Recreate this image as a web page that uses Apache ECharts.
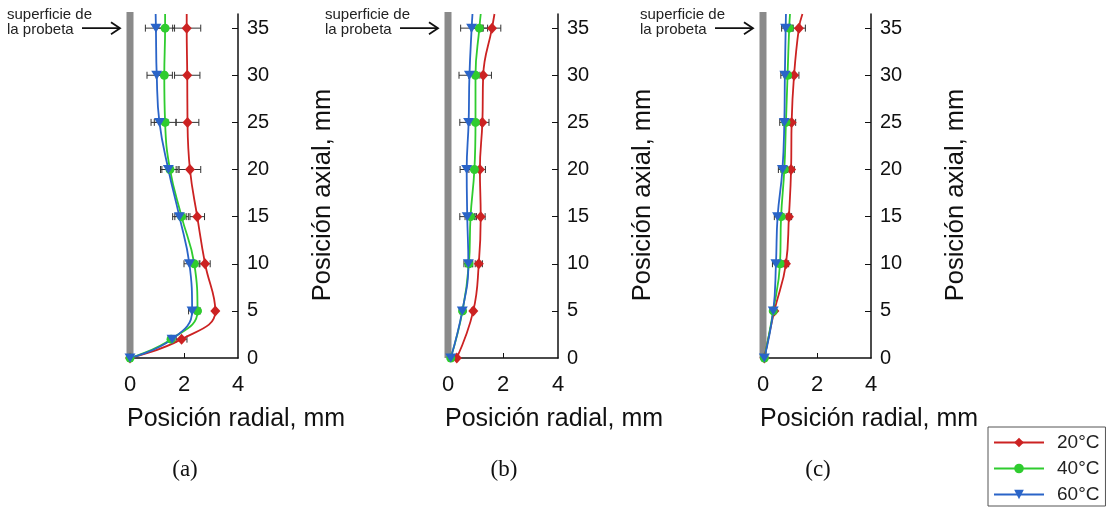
<!DOCTYPE html>
<html><head><meta charset="utf-8">
<script src="https://cdn.jsdelivr.net/npm/echarts@6/dist/echarts.min.js"></script>
<style>html,body{margin:0;padding:0;background:#fff}#c{width:1106px;height:508px}</style>
</head><body><div id="c"></div>
<script>
// ---- data ----
const seriesNames = ['20°C', '40°C', '60°C'];
const panelLabels = ['(a)', '(b)', '(c)'];
const axialTicks = [0, 5, 10, 15, 20, 25, 30, 35];
const radialTicks = [0, 2, 4];
const axialTop = 36.5;

// panel (a)
const axialA = [0, 2, 5, 10, 15, 20, 25, 30, 35];
const a20 = [0, 1.91, 3.16, 2.78, 2.49, 2.22, 2.13, 2.12, 2.10];
const a40 = [0, 1.52, 2.50, 2.38, 1.91, 1.48, 1.30, 1.27, 1.30];
const a60 = [0, 1.56, 2.30, 2.20, 1.83, 1.42, 1.09, 0.99, 0.96];
const a20err = [0, 0.20, 0.03, 0.19, 0.27, 0.40, 0.42, 0.47, 0.52];
const a40err = [0, 0.10, 0.10, 0.18, 0.25, 0.30, 0.40, 0.30, 0.35];
const a60err = [0, 0.10, 0.13, 0.20, 0.25, 0.29, 0.31, 0.36, 0.39];
const aTop = [2.10, 1.30, 0.95];

// panel (b)
const axialB = [0, 5, 10, 15, 20, 25, 30, 35];
const b20 = [0.32, 0.92, 1.12, 1.19, 1.16, 1.25, 1.28, 1.60];
const b40 = [0.10, 0.53, 0.76, 0.82, 0.96, 1.00, 1.00, 1.14];
const b60 = [0.10, 0.52, 0.74, 0.70, 0.68, 0.75, 0.78, 0.86];
const b20err = [0, 0.05, 0.13, 0.16, 0.20, 0.24, 0.30, 0.32];
const b40err = [0, 0.08, 0.12, 0.20, 0.20, 0.20, 0.25, 0.30];
const b60err = [0, 0.08, 0.16, 0.27, 0.24, 0.32, 0.38, 0.40];
const bTop = [1.69, 1.19, 0.89];

// panel (c)
const axialC = [0, 5, 10, 15, 20, 25, 30, 35];
const c20 = [0.05, 0.42, 0.85, 0.96, 1.04, 1.06, 1.15, 1.33];
const c40 = [0.05, 0.38, 0.63, 0.67, 0.79, 0.85, 0.91, 0.97];
const c60 = [0.05, 0.38, 0.48, 0.54, 0.72, 0.79, 0.81, 0.84];
const c20err = [0, 0.05, 0.10, 0.10, 0.12, 0.15, 0.18, 0.24];
const c40err = [0, 0.05, 0.10, 0.10, 0.12, 0.12, 0.12, 0.15];
const c60err = [0, 0.05, 0.13, 0.12, 0.15, 0.17, 0.15, 0.15];
const cTop = [1.46, 1.00, 0.85];

// ---- styling ----
const colors = ['#cc2222', '#2fcc2f', '#2a64c8'];
const symbols = ['diamond', 'circle', 'path://M0,0 L10,0 L5,8.5 Z'];
const symbolSizes = [[10, 11], 9, [11, 9]];
const font = "'Liberation Sans', Arial, sans-serif";

const panels = [
  {axial: axialA, vals: [a20, a40, a60], errs: [a20err, a40err, a60err], top: aTop, left: 130, width: 108},
  {axial: axialB, vals: [b20, b40, b60], errs: [b20err, b40err, b60err], top: bTop, left: 448, width: 110},
  {axial: axialC, vals: [c20, c40, c60], errs: [c20err, c40err, c60err], top: cTop, left: 763, width: 108}
];

function errItem(params, api) {
  const x = api.value(0), y = api.value(1), e = api.value(2);
  if (!e) return null;
  const p1 = api.coord([x - e, y]), p2 = api.coord([x + e, y]);
  const h = 3.5;
  const style = {stroke: '#333', lineWidth: 1};
  return {type: 'group', children: [
    {type: 'line', shape: {x1: p1[0], y1: p1[1], x2: p2[0], y2: p2[1]}, style},
    {type: 'line', shape: {x1: p1[0], y1: p1[1] - h, x2: p1[0], y2: p1[1] + h}, style},
    {type: 'line', shape: {x1: p2[0], y1: p2[1] - h, x2: p2[0], y2: p2[1] + h}, style}
  ]};
}
function surfaceItem(params, api) {
  const p0 = api.coord([0, 0]), p1 = api.coord([0, axialTop]);
  return {type: 'rect', shape: {x: p0[0] - 3.5, y: p1[1] - 2, width: 7, height: p0[1] - p1[1] + 2},
          style: {fill: '#8a8a8a'}};
}

const grid = [], xAxis = [], yAxis = [], series = [];
panels.forEach((p, gi) => {
  grid.push({left: p.left, width: p.width, top: 14, height: 344});
  xAxis.push({
    type: 'value', gridIndex: gi, min: 0, max: 4, interval: 2,
    axisLine: {show: true, onZero: false, lineStyle: {color: '#111', width: 1.5}},
    axisTick: {show: true, inside: true, length: 5, customValues: [2], lineStyle: {color: '#111'}},
    splitLine: {show: false},
    axisLabel: {fontSize: 22, margin: 16, color: '#111', fontFamily: font, customValues: radialTicks}
  });
  yAxis.push({
    type: 'value', gridIndex: gi, position: 'right', min: 0, max: axialTop, interval: 5,
    name: 'Posición axial, mm', nameLocation: 'middle', nameRotate: 90, nameGap: 72,
    nameTextStyle: {fontSize: 25.5, color: '#111', fontFamily: font, padding: [0, 18, 0, 0]},
    axisLine: {show: true, onZero: false, lineStyle: {color: '#111', width: 1.5}},
    axisTick: {show: true, inside: true, length: 6, customValues: axialTicks.slice(1), lineStyle: {color: '#111'}},
    splitLine: {show: false},
    axisLabel: {fontSize: 20, margin: 9, color: '#111', fontFamily: font, customValues: axialTicks,
                formatter: v => (v % 5 === 0 ? String(v) : '')}
  });
  series.push({
    type: 'custom', name: 'surface' + gi, xAxisIndex: gi, yAxisIndex: gi, clip: false, z: 1,
    silent: true, data: [[0, 0]], encode: {x: 0, y: 1}, renderItem: surfaceItem
  });
  seriesNames.forEach((nm, si) => {
    series.push({
      type: 'custom', name: nm + ' err' + gi, xAxisIndex: gi, yAxisIndex: gi, z: 2, silent: true,
      encode: {x: 0, y: 1},
      data: p.axial.map((y, i) => [p.vals[si][i], y, p.errs[si][i]]),
      renderItem: errItem
    });
    const d = p.axial.map((y, i) => [p.vals[si][i], y]);
    d.push({value: [p.top[si], axialTop], symbol: 'none'});
    series.push({
      type: 'line', name: nm, xAxisIndex: gi, yAxisIndex: gi, z: 3,
      data: d, smooth: 0.45, clip: false,
      symbol: symbols[si], symbolSize: symbolSizes[si], showSymbol: true,
      itemStyle: {color: colors[si]},
      lineStyle: {color: colors[si], width: 1.8},
      emphasis: {disabled: true}
    });
  });
});

const chart = echarts.init(document.getElementById('c'), null, {renderer: 'canvas'});
chart.setOption({
  animation: false,
  backgroundColor: '#fff',
  grid, xAxis, yAxis, series,
  legend: {
    data: seriesNames, orient: 'vertical', left: 988, top: 427, height: 72,
    padding: [6, 6, 2, 5], itemWidth: 50, itemHeight: 12, itemGap: 7,
    borderColor: '#555', borderWidth: 1, selectedMode: false,
    textStyle: {fontSize: 19, fontFamily: font, color: '#222', padding: [0, 0, 0, 8]}
  }
});

// annotations positioned from the axes
const graphics = [];
panels.forEach((p, gi) => {
  const s = chart.convertToPixel({gridIndex: gi}, [0, 35]);
  const x0 = s[0], y35 = s[1];
  graphics.push({
    type: 'text', x: x0 - 123, y: y35 - 21,
    style: {text: 'superficie de\nla probeta', fontSize: 15, lineHeight: 15, fontFamily: font, fill: '#222'}
  });
  graphics.push({
    type: 'line', shape: {x1: x0 - 48, y1: y35, x2: x0 - 10, y2: y35},
    style: {stroke: '#111', lineWidth: 1.8}
  });
  graphics.push({
    type: 'polyline', shape: {points: [[x0 - 19, y35 - 6], [x0 - 10, y35], [x0 - 19, y35 + 6]]},
    style: {stroke: '#111', lineWidth: 1.8, fill: null}
  });
  const b = chart.convertToPixel({gridIndex: gi}, [0, 0]);
  graphics.push({
    type: 'text', x: b[0] - 3, y: 407,
    style: {text: 'Posición radial, mm', fontSize: 25, fontFamily: font, fill: '#111'}
  });
  const m = chart.convertToPixel({gridIndex: gi}, [2, 0]);
  graphics.push({
    type: 'text', x: m[0] + 1, y: 470,
    style: {text: panelLabels[gi], fontSize: 23, fontFamily: "'Liberation Serif', 'Times New Roman', serif",
            fill: '#111', align: 'center', verticalAlign: 'middle'}
  });
});
chart.setOption({graphic: graphics});
</script>
</body></html>
